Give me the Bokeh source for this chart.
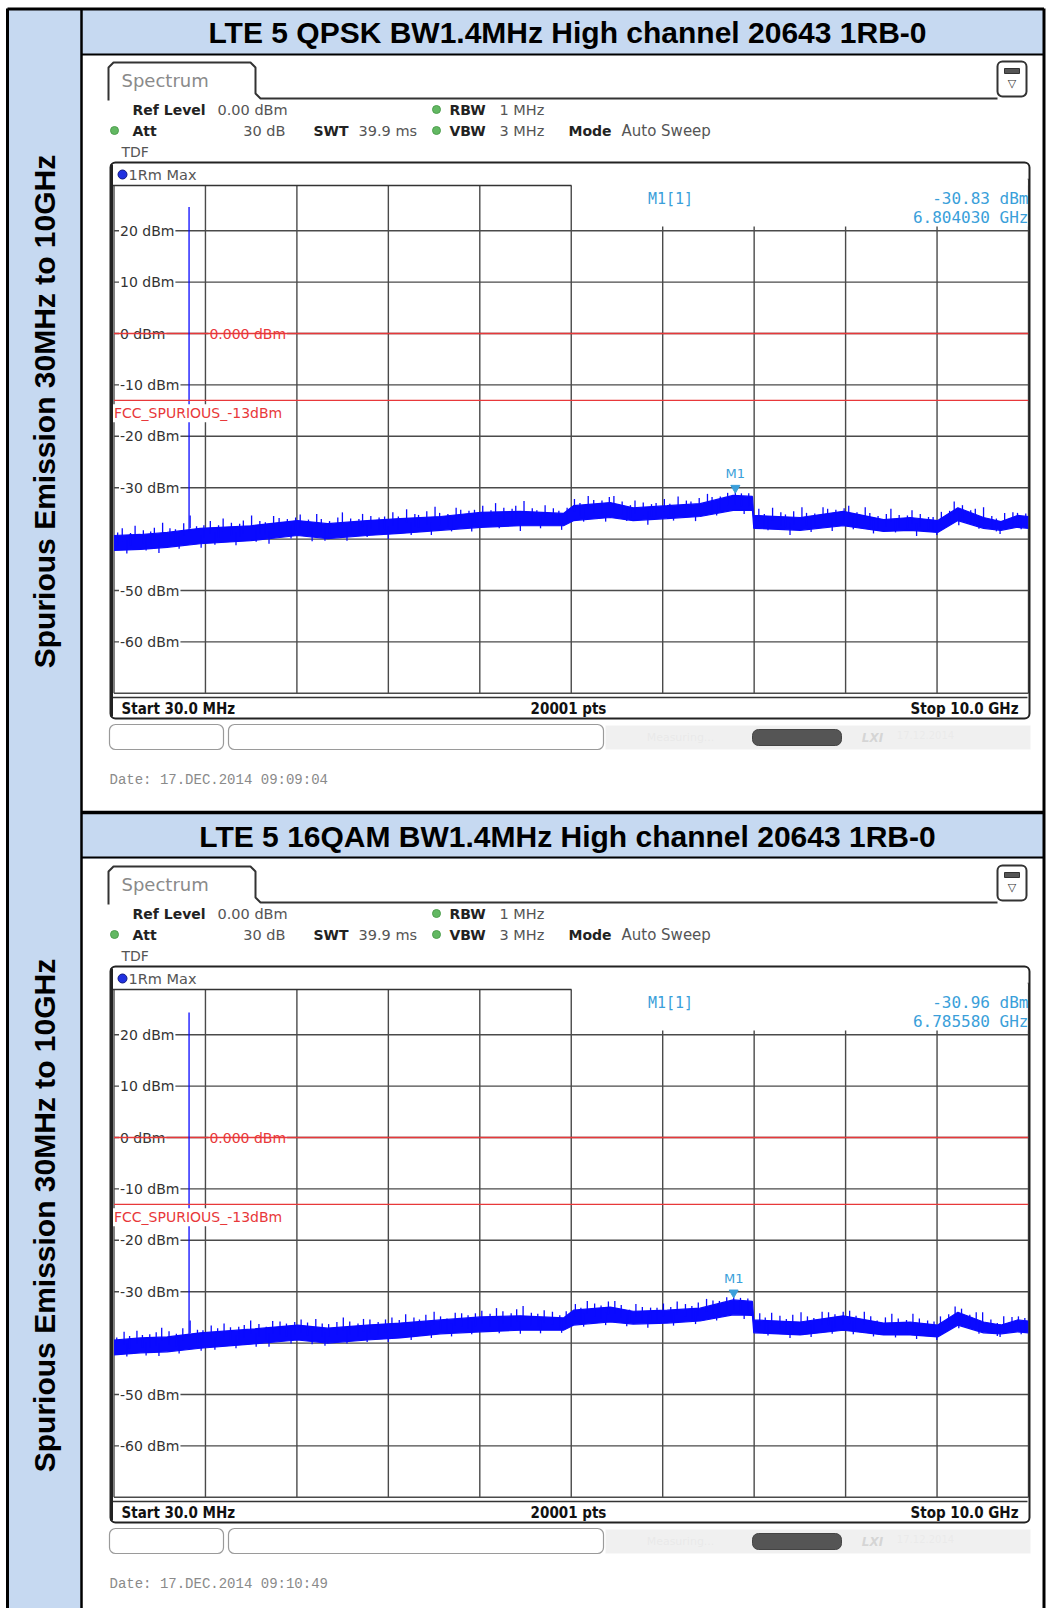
import math
from bokeh.plotting import figure
from bokeh.models import Range1d, BoxAnnotation
from bokeh.core.properties import value
from bokeh.embed import file_html
from bokeh.resources import INLINE

# ---------------- data ----------------
row_titles = ["LTE 5 QPSK BW1.4MHz High channel 20643 1RB-0",
              "LTE 5 16QAM BW1.4MHz High channel 20643 1RB-0"]
side_label = "Spurious Emission 30MHz to 10GHz"
start_ghz, stop_ghz = 0.03, 10.0
n_points = 20001
grid_top_dbm, grid_bottom_dbm = 30, -70
y_tick_dbm = [20, 10, 0, -10, -20, -30, -40, -50, -60]
y_tick_labels = ["20 dBm", "10 dBm", "0 dBm", "-10 dBm", "-20 dBm", "-30 dBm", "-40 dBm", "-50 dBm", "-60 dBm"]
display_line_dbm = 0.0
display_line_label = "0.000 dBm"
limit_dbm = -13.0
limit_label = "FCC_SPURIOUS_-13dBm"
carrier_ghz = 0.8483
carrier_peak_dbm = [24.6, 24.3]
marker_ghz = [6.804030, 6.785580]
marker_dbm = [-30.83, -30.96]
marker_level_text = ["-30.83 dBm", "-30.96 dBm"]
marker_freq_text = ["6.804030 GHz", "6.785580 GHz"]
date_text = ["Date: 17.DEC.2014  09:09:04", "Date: 17.DEC.2014  09:10:49"]

# noise band (upper / lower edge of the trace body)
trace_ghz = [0.03, 0.32, 0.61, 0.97, 1.52, 2.03, 2.36, 2.79, 3.15, 3.59, 4.03, 4.46, 4.93, 5.04,
             5.44, 5.69, 6.06, 6.42, 6.78, 6.99, 7.005, 7.51, 7.98, 8.42, 8.71, 9.01, 9.23, 9.51,
             9.70, 9.88, 10.0]
trace1_hi = [-39.3, -39.1, -38.7, -37.9, -37.4, -36.4, -37.0, -36.4, -36.0, -35.6, -34.8, -34.6,
             -35.0, -33.5, -32.9, -33.9, -33.5, -33.1, -31.5, -31.7, -35.4, -35.8, -34.6, -36.2,
             -35.8, -36.4, -33.9, -35.8, -36.6, -35.4, -35.6]
trace1_lo = [-42.2, -42.0, -41.6, -40.9, -40.3, -39.3, -39.9, -39.3, -38.9, -38.3, -37.7, -37.4,
             -37.4, -36.4, -35.8, -36.4, -36.0, -35.6, -34.4, -34.4, -37.9, -38.3, -37.4, -38.5,
             -38.3, -38.7, -36.4, -37.9, -38.3, -37.7, -37.9]
trace2_hi = [-39.4, -39.0, -38.8, -38.0, -37.3, -36.5, -37.1, -36.5, -36.1, -35.5, -34.9, -34.7,
             -35.1, -33.6, -33.0, -33.8, -33.6, -33.2, -31.6, -31.9, -35.5, -35.9, -34.7, -36.1,
             -35.9, -36.5, -34.0, -35.9, -36.5, -35.5, -35.7]
trace2_lo = [-42.3, -41.9, -41.7, -41.0, -40.2, -39.4, -40.0, -39.4, -39.0, -38.2, -37.8, -37.5,
             -37.5, -36.5, -35.9, -36.3, -36.1, -35.7, -34.5, -34.6, -38.0, -38.4, -37.5, -38.4,
             -38.4, -38.8, -36.5, -38.0, -38.2, -37.8, -38.0]

# noise peaks above the band (GHz, peak dBm)
up1_ghz = [0.07, 0.12, 0.21, 0.26, 0.35, 0.43, 0.47, 0.56, 0.64, 0.70, 0.79, 0.86, 0.93, 1.01,
           1.08, 1.17, 1.22, 1.31, 1.40, 1.44, 1.53, 1.62, 1.68, 1.77, 1.83, 1.92, 2.01, 2.06,
           2.15, 2.24, 2.29, 2.38, 2.47, 2.52, 2.61, 2.70, 2.74, 2.83, 2.92, 2.98, 3.07, 3.13,
           3.22, 3.31, 3.35, 3.44, 3.53, 3.58, 3.67, 3.76, 3.81, 3.90, 3.96, 4.05, 4.14, 4.19,
           4.28, 4.37, 4.41, 4.50, 4.59, 4.64, 4.73, 4.82, 4.88, 4.97, 5.05, 5.11, 5.20, 5.26,
           5.35, 5.43, 5.48, 5.57, 5.66, 5.71, 5.80, 5.89, 5.94, 6.03, 6.09, 6.18, 6.27, 6.32,
           6.41, 6.50, 6.55, 6.64, 6.72, 6.804, 6.87, 6.95, 7.06, 7.12, 7.21, 7.30, 7.35, 7.44,
           7.53, 7.58, 7.67, 7.76, 7.81, 7.90, 7.99, 8.04, 8.13, 8.22, 8.27, 8.36, 8.45, 8.50,
           8.59, 8.68, 8.73, 8.82, 8.91, 8.96, 9.05, 9.14, 9.19, 9.28, 9.37, 9.42, 9.51, 9.60,
           9.65, 9.74, 9.83, 9.88, 9.97]
up1_dbm = [-38.7, -37.9, -38.8, -37.4, -38.3, -38.5, -37.8, -36.8, -37.9, -38.1, -36.9, -35.4,
           -37.5, -37.3, -36.5, -37.3, -36.0, -36.8, -37.0, -36.4, -35.4, -36.5, -36.7, -35.5,
           -35.9, -36.1, -35.8, -35.2, -36.2, -35.1, -36.1, -36.5, -35.8, -34.8, -36.0, -36.1,
           -35.1, -35.5, -35.8, -35.6, -34.8, -35.6, -34.2, -35.1, -35.3, -34.6, -33.7, -34.9,
           -35.1, -33.9, -34.3, -34.5, -34.3, -33.5, -34.4, -33.0, -33.9, -34.1, -33.5, -32.6,
           -34.0, -34.4, -33.4, -34.0, -34.5, -33.9, -32.2, -33.0, -31.6, -32.4, -32.5, -31.8,
           -31.6, -32.7, -33.4, -32.5, -32.9, -33.2, -33.0, -32.2, -33.1, -31.7, -32.5, -32.7,
           -32.0, -31.2, -31.8, -31.7, -31.0, -30.83, -31.1, -31.1, -34.1, -35.1, -33.9, -34.8,
           -35.2, -34.6, -33.8, -34.9, -35.0, -33.8, -34.1, -34.3, -34.0, -33.5, -34.8, -33.8,
           -34.9, -35.5, -35.1, -34.1, -35.3, -35.4, -34.4, -35.1, -35.7, -35.7, -34.7, -34.5,
           -32.7, -33.4, -34.4, -34.1, -33.8, -35.5, -36.0, -34.9, -34.8, -34.9, -35.0]
up2_ghz = [0.06, 0.14, 0.20, 0.28, 0.34, 0.42, 0.49, 0.55, 0.63, 0.71, 0.78, 0.86, 0.94, 1.00,
           1.09, 1.16, 1.23, 1.30, 1.39, 1.45, 1.52, 1.61, 1.69, 1.76, 1.84, 1.91, 2.00, 2.07,
           2.14, 2.23, 2.30, 2.37, 2.46, 2.53, 2.60, 2.69, 2.75, 2.82, 2.91, 2.99, 3.06, 3.14,
           3.21, 3.30, 3.36, 3.43, 3.52, 3.59, 3.66, 3.75, 3.82, 3.89, 3.97, 4.04, 4.13, 4.20,
           4.27, 4.36, 4.42, 4.49, 4.58, 4.65, 4.72, 4.81, 4.89, 4.96, 5.06, 5.12, 5.19, 5.27,
           5.34, 5.42, 5.49, 5.56, 5.65, 5.72, 5.79, 5.88, 5.95, 6.02, 6.10, 6.17, 6.26, 6.33,
           6.40, 6.49, 6.56, 6.63, 6.71, 6.786, 6.86, 6.94, 7.07, 7.13, 7.20, 7.29, 7.36, 7.43,
           7.52, 7.59, 7.66, 7.75, 7.82, 7.89, 7.98, 8.05, 8.12, 8.21, 8.28, 8.35, 8.44, 8.51,
           8.58, 8.67, 8.74, 8.81, 8.90, 8.97, 9.04, 9.13, 9.20, 9.27, 9.36, 9.43, 9.50, 9.59,
           9.66, 9.73, 9.82, 9.89, 9.96]
up2_dbm = [-38.9, -37.8, -38.6, -37.6, -38.4, -38.3, -37.9, -37.0, -37.7, -38.2, -37.1, -35.6,
           -37.4, -37.5, -36.6, -37.1, -36.2, -36.9, -36.8, -36.5, -35.6, -36.3, -36.8, -35.7,
           -35.8, -36.2, -35.9, -35.4, -36.0, -35.3, -36.2, -36.3, -35.9, -35.0, -35.8, -36.2,
           -35.3, -35.4, -35.9, -35.4, -35.0, -35.5, -34.4, -35.0, -35.4, -34.5, -33.9, -34.8,
           -35.2, -34.1, -34.2, -34.6, -34.2, -33.7, -34.3, -33.2, -33.8, -34.2, -33.4, -32.8,
           -34.1, -34.3, -33.6, -33.9, -34.6, -33.8, -32.4, -33.1, -31.8, -32.3, -32.7, -31.9,
           -31.8, -32.6, -33.5, -32.4, -33.0, -33.1, -33.1, -32.3, -33.0, -31.9, -32.4, -32.8,
           -32.1, -31.4, -31.7, -31.8, -31.1, -30.96, -31.2, -31.3, -34.2, -35.0, -34.1, -34.7,
           -35.3, -34.5, -34.0, -34.8, -35.1, -33.9, -34.0, -34.4, -33.9, -33.7, -34.7, -33.9,
           -34.8, -35.6, -35.0, -34.3, -35.2, -35.5, -34.3, -35.2, -35.6, -35.8, -34.8, -34.4,
           -32.9, -33.3, -34.5, -34.0, -34.0, -35.4, -36.1, -34.8, -34.9, -34.8, -35.1]
# noise dips below the band (GHz, minimum dBm)
down_ghz = [0.17, 0.38, 0.52, 0.74, 0.98, 1.13, 1.36, 1.58, 1.72, 1.96, 2.19, 2.33, 2.57, 2.79,
            3.02, 3.27, 3.49, 3.71, 3.93, 4.23, 4.46, 4.68, 4.91, 5.15, 5.39, 5.62, 5.85, 6.13,
            6.37, 6.60, 6.90, 7.16, 7.40, 7.63, 7.86, 8.09, 8.31, 8.55, 8.78, 9.00, 9.24, 9.46,
            9.69, 9.92]
down1_dbm = [-42.8, -42.2, -42.7, -41.9, -41.7, -41.1, -41.2, -40.5, -40.9, -39.9, -40.4, -40.3,
             -40.3, -39.6, -40.0, -39.2, -39.2, -38.5, -38.5, -37.9, -38.4, -37.9, -38.2, -36.6,
             -36.6, -36.5, -37.2, -36.4, -36.5, -35.4, -35.1, -38.3, -39.2, -38.6, -38.4, -38.1,
             -38.9, -38.7, -39.4, -39.2, -37.3, -38.0, -39.0, -38.1]
down2_dbm = [-42.6, -42.4, -42.5, -42.0, -41.5, -41.3, -41.0, -40.7, -40.7, -40.1, -40.2, -40.5,
             -40.1, -39.8, -39.8, -39.4, -39.0, -38.7, -38.3, -38.1, -38.2, -38.1, -38.0, -36.8,
             -36.5, -36.7, -37.0, -36.6, -36.3, -35.6, -35.3, -38.5, -39.0, -38.8, -38.2, -38.3,
             -38.7, -38.9, -39.2, -39.4, -37.1, -38.2, -38.8, -38.3]

traces_hi = [trace1_hi, trace2_hi]
traces_lo = [trace1_lo, trace2_lo]
ups_ghz = [up1_ghz, up2_ghz]
ups_dbm = [up1_dbm, up2_dbm]
downs_dbm = [down1_dbm, down2_dbm]

# ---------------- layout (page pixel coordinates) ----------------
W, H = 1046, 1608
X0, Y0 = 0, 0
DY = 804                      # vertical offset of the second row
GX0, GX1 = 113.5, 1028.0      # graticule left/right
GY_TOP, GY_BOT = 178.8, 692.8 # graticule 30 dBm / -70 dBm (row 1)
XR = 1043.5                   # table right border
BLUE_CELL = "#C6D9F1"
TRACE = "#0A0AFF"
RED = "#E8383A"
MK = "#3A9FDA"
GRID = "#4a4a4a"

p = figure(width=W, height=H, x_range=Range1d(X0, X0 + W), y_range=Range1d(Y0 + H, Y0),
           output_backend="svg", toolbar_location=None, min_border=0,
           x_axis_location=None, y_axis_location=None)
p.grid.visible = False
p.outline_line_color = None
p.background_fill_color = "white"
p.border_fill_color = "white"

ppg = (GX1 - GX0) / (stop_ghz - start_ghz)
ppd = (GY_BOT - GY_TOP) / (grid_top_dbm - grid_bottom_dbm)
p.extra_x_ranges = {"freq": Range1d(start_ghz - (GX0 - X0) / ppg, stop_ghz + (X0 + W - GX1) / ppg)}
extra_y = {}
for k in range(2):
    top = GY_TOP + k * DY
    bot = GY_BOT + k * DY
    extra_y[f"dbm{k}"] = Range1d(grid_bottom_dbm - (Y0 + H - bot) / ppd, grid_top_dbm + (top - Y0) / ppd)
p.extra_y_ranges = extra_y


def T(x, y, s, size, color="#222", font="DejaVu Sans", style="normal", align="left",
      baseline="middle", angle=0.0, bg=None, pad=0, xr="default", yr="default", xo=0, yo=0, alpha=1.0):
    kw = dict(x=[x], y=[y], text=[s], text_font=value(font), text_font_size=f"{size}px",
              text_font_style=style, text_color=color, text_align=align, text_baseline=baseline,
              angle=angle, x_offset=xo, y_offset=yo, x_range_name=xr, y_range_name=yr, text_alpha=alpha)
    if bg is not None:
        kw.update(background_fill_color=bg, padding=pad)
    p.text(**kw)


def box(l, r, t, b, fill=None, line="#222", lw=1.0, rad=0, falpha=1.0):
    p.add_layout(BoxAnnotation(left=l, right=r, top=t, bottom=b,
                               fill_color=fill if fill else "white",
                               fill_alpha=falpha if fill else 0.0,
                               line_color=line if line else "white", line_width=lw,
                               line_alpha=1.0 if line else 0.0,
                               border_radius=rad))


# ---------------- table background ----------------
p.quad(left=[7], right=[81], top=[8], bottom=[Y0 + H], fill_color=BLUE_CELL, line_color=None)
for k in range(2):
    dy = k * DY
    p.quad(left=[81], right=[XR], top=[8 + dy], bottom=[54 + dy], fill_color=BLUE_CELL, line_color=None)
    T(567, 32 + dy, row_titles[k], 30, color="black", font="Liberation Sans", style="bold", align="center")
    T(44, 411 + dy, side_label, 30, color="black", font="Liberation Sans", style="bold", align="center",
      angle=math.pi / 2)

# ---------------- spectrum screenshots ----------------
for k in range(2):
    dy = k * DY
    yr = f"dbm{k}"

    # tab + header line
    p.line(x=[108, 108, 113, 250, 255, 255, 260, 997],
           y=[100 + dy, 67 + dy, 62 + dy, 62 + dy, 67 + dy, 93 + dy, 98 + dy, 98 + dy],
           line_color="#333", line_width=2)
    T(121, 80 + dy, "Spectrum", 18, color="#8a8a8a")
    box(997, 1026, 61 + dy, 96 + dy, line="#333", lw=2, rad=5)
    p.quad(left=[1004], right=[1019], top=[68 + dy], bottom=[73 + dy], fill_color="#555", line_color="#333")
    T(1011.5, 83 + dy, "▽", 11, color="#333", align="center")

    # settings text
    T(132, 109 + dy, "Ref Level", 14, color="#222", style="bold")
    T(217, 109 + dy, "0.00 dBm", 14.5, color="#555")
    T(132, 130 + dy, "Att", 14, color="#222", style="bold")
    T(285, 130 + dy, "30 dB", 14.5, color="#555", align="right")
    T(313, 130 + dy, "SWT", 14, color="#222", style="bold")
    T(358, 130 + dy, "39.9 ms", 14.5, color="#555")
    T(449, 109 + dy, "RBW", 14, color="#222", style="bold")
    T(499, 109 + dy, "1 MHz", 14.5, color="#555")
    T(449, 130 + dy, "VBW", 14, color="#222", style="bold")
    T(499, 130 + dy, "3 MHz", 14.5, color="#555")
    T(568, 130 + dy, "Mode", 14, color="#222", style="bold")
    T(621, 130 + dy, "Auto Sweep", 15, color="#555")
    T(121, 151 + dy, "TDF", 14, color="#555")
    p.scatter(x=[114, 436, 436], y=[130 + dy, 109 + dy, 130 + dy], size=8,
              fill_color="#62b862", line_color="#4f9f4f")

    # graticule grid
    vx = [start_ghz + i * (stop_ghz - start_ghz) / 10 for i in range(11)]
    p.segment(x0=vx, y0=[grid_bottom_dbm] * 11, x1=vx, y1=[grid_top_dbm] * 11,
              x_range_name="freq", y_range_name=yr, line_color=GRID, line_width=1.4)
    hy = [grid_top_dbm - 10 * i for i in range(11)]
    p.segment(x0=[start_ghz] * 11, y0=hy, x1=[stop_ghz] * 11, y1=hy,
              x_range_name="freq", y_range_name=yr, line_color=GRID, line_width=1.4)

    # trace header strip and marker info area
    p.quad(left=[112], right=[1027], top=[163 + dy], bottom=[185 + dy], fill_color="white", line_color=None)
    p.quad(left=[572], right=[1027], top=[163 + dy], bottom=[226 + dy], fill_color="white", line_color=None)
    p.line(x=[110, 571], y=[185 + dy, 185 + dy], line_color="#333", line_width=1.6)
    p.scatter(x=[122], y=[174 + dy], size=9, fill_color="#2030e0", line_color="#101880")
    T(128, 174 + dy, "1Rm Max", 14.5, color="#555")

    # y tick labels (inside graticule)
    for d, lab in zip(y_tick_dbm, y_tick_labels):
        T(start_ghz, d, lab, 14, color="#333", xr="freq", yr=yr, xo=5, bg="white", pad=1)

    # display line
    T(start_ghz + (stop_ghz - start_ghz) / 10, display_line_dbm, display_line_label, 14, color=RED,
      xr="freq", yr=yr, xo=3, bg="white", pad=1)
    p.segment(x0=[start_ghz], y0=[display_line_dbm], x1=[stop_ghz], y1=[display_line_dbm],
              x_range_name="freq", y_range_name=yr, line_color=RED, line_width=1.3)

    # trace
    p.varea(x=trace_ghz, y1=traces_lo[k], y2=traces_hi[k], x_range_name="freq", y_range_name=yr,
            fill_color=TRACE)
    p.line(x=trace_ghz, y=traces_hi[k], x_range_name="freq", y_range_name=yr, line_color=TRACE, line_width=1.2)
    p.line(x=trace_ghz, y=traces_lo[k], x_range_name="freq", y_range_name=yr, line_color=TRACE, line_width=1.2)
    p.segment(x0=ups_ghz[k], y0=[d - 2.5 for d in ups_dbm[k]], x1=ups_ghz[k], y1=ups_dbm[k],
              x_range_name="freq", y_range_name=yr, line_color=TRACE, line_width=1.3)
    p.segment(x0=down_ghz, y0=[d + 2.5 for d in downs_dbm[k]], x1=down_ghz, y1=downs_dbm[k],
              x_range_name="freq", y_range_name=yr, line_color=TRACE, line_width=1.3)
    p.segment(x0=[carrier_ghz], y0=[traces_hi[k][2]], x1=[carrier_ghz], y1=[carrier_peak_dbm[k]],
              x_range_name="freq", y_range_name=yr, line_color=TRACE, line_width=1.3)

    # limit line
    T(start_ghz, limit_dbm, limit_label, 14, color=RED, xr="freq", yr=yr, xo=-1, yo=4,
      baseline="top", bg="white", pad=1)
    p.segment(x0=[start_ghz], y0=[limit_dbm], x1=[stop_ghz], y1=[limit_dbm],
              x_range_name="freq", y_range_name=yr, line_color=RED, line_width=1.3)

    # marker
    p.scatter(x=[marker_ghz[k]], y=[marker_dbm[k] + 4 / ppd], marker="inverted_triangle", size=9,
              x_range_name="freq", y_range_name=yr, fill_color=MK, line_color=MK)
    T(marker_ghz[k], marker_dbm[k], "M1", 13, color=MK, align="center", xr="freq", yr=yr, yo=-18)
    T(670, 198 + dy, "M1[1]", 15, color=MK, font="DejaVu Sans Mono", align="center")
    T(1028, 198 + dy, marker_level_text[k], 16, color=MK, font="DejaVu Sans Mono", align="right")
    T(1028, 217 + dy, marker_freq_text[k], 16, color=MK, font="DejaVu Sans Mono", align="right")

    # bottom status row
    p.line(x=[112, 1027], y=[697 + dy, 697 + dy], line_color="#333", line_width=1.4)
    T(121, 708 + dy, f"Start {start_ghz * 1000:.1f} MHz", 15, color="#111",
      font="DejaVu Sans Condensed", style="bold")
    T(568, 708 + dy, f"{n_points} pts", 15, color="#111", font="DejaVu Sans Condensed",
      style="bold", align="center")
    T(1018, 708 + dy, f"Stop {stop_ghz:.1f} GHz", 15, color="#111", font="DejaVu Sans Condensed",
      style="bold", align="right")
    box(110, 1029, 162 + dy, 718 + dy, line="#222", lw=2, rad=5)
    p.segment(x0=[111], y0=[164 + dy], x1=[111], y1=[716 + dy], line_color="#222", line_width=3)

    # soft key bar
    box(605, 1030, 725 + dy, 749 + dy, fill="#ececec", line=None, falpha=0.8)
    box(109, 223, 724 + dy, 749 + dy, fill="white", line="#9a9a9a", lw=1.2, rad=6)
    box(228, 603, 724 + dy, 749 + dy, fill="white", line="#9a9a9a", lw=1.2, rad=6)
    T(680, 737 + dy, "Measuring...", 11, color="#d9d9d9", align="center")
    box(752, 841, 729 + dy, 745 + dy, fill="#555555", line="#444", lw=1, rad=6)
    T(872, 737 + dy, "LXI", 12, color="#777", style="bold italic", align="center")
    T(925, 734 + dy, "17.12.2014", 10, color="#e0e0e0", align="center")

    # date
    T(109, 779 + dy, date_text[k], 14, color="#8a8a8a", font="Liberation Mono")

# ---------------- table borders ----------------
p.segment(x0=[7, 81, 81, 81, 81, XR, 7],
          y0=[8, 8, 54, 812, 857, 8, 8.5],
          x1=[7, 81, XR, XR, XR, XR, XR],
          y1=[1608, 1608, 54, 812, 857, 1608, 8.5],
          line_color="black", line_width=[3, 2.5, 2, 3.5, 2, 3, 3])

open("out.html", "w").write(file_html(p, INLINE))
